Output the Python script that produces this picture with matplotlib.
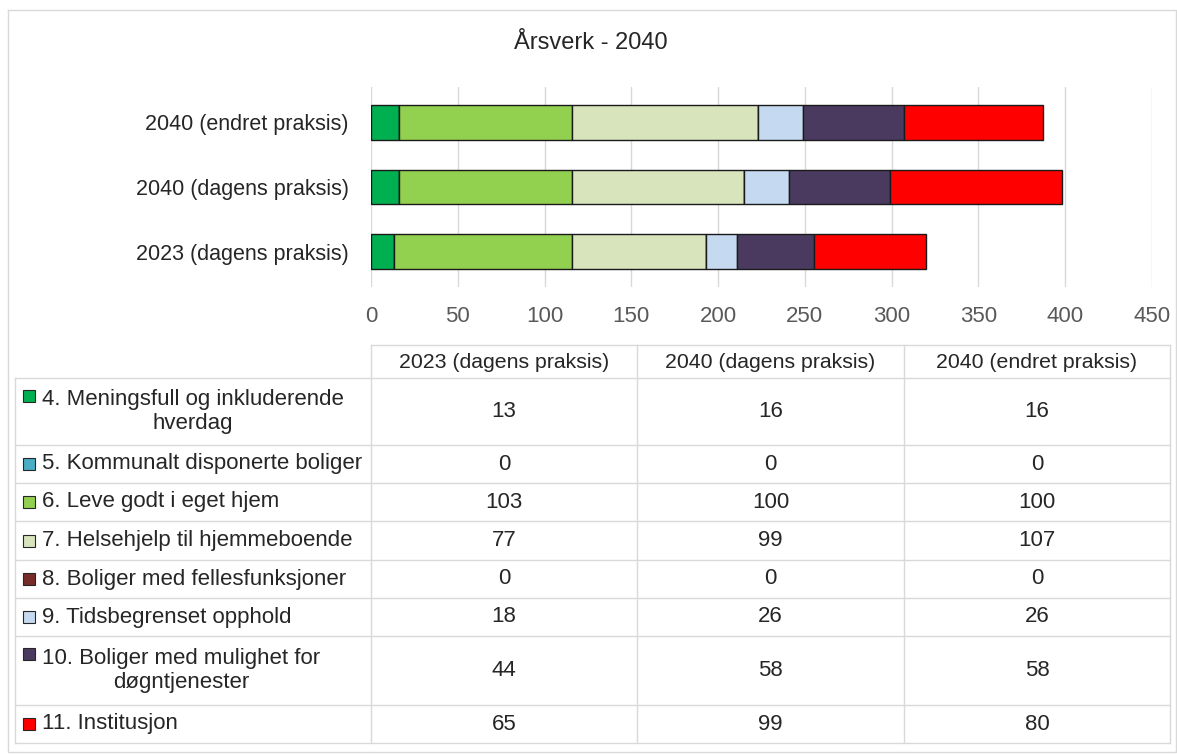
import matplotlib.pyplot as plt
import numpy as np

plt.rcParams['font.family'] = ['Liberation Sans', 'DejaVu Sans']

# data
scenarios = ["2023 (dagens praksis)", "2040 (dagens praksis)", "2040 (endret praksis)"]
categories = [
    "4. Meningsfull og inkluderende\nhverdag",
    "5. Kommunalt disponerte boliger",
    "6. Leve godt i eget hjem",
    "7. Helsehjelp til hjemmeboende",
    "8. Boliger med fellesfunksjoner",
    "9. Tidsbegrenset opphold",
    "10. Boliger med mulighet for\ndøgntjenester",
    "11. Institusjon",
]
colors = ["#00B050", "#4BACC6", "#92D050", "#D8E4BC",
          "#772C2A", "#C5D9F1", "#4B3A60", "#FF0000"]
# one list per scenario, in category order
vals_2023 = [13, 0, 103, 77, 0, 18, 44, 65]
vals_2040_dagens = [16, 0, 100, 99, 0, 26, 58, 99]
vals_2040_endret = [16, 0, 100, 107, 0, 26, 58, 80]
ticks = [0, 50, 100, 150, 200, 250, 300, 350, 400, 450]

W, H = 1177, 754
fig = plt.figure(figsize=(W / 100, H / 100), dpi=100)

# overlay in pixel coords for frame, title and table
ov = fig.add_axes([0, 0, 1, 1])
ov.set_xlim(0, W)
ov.set_ylim(H, 0)
ov.axis('off')

grid_c = "#D9D9D9"
txt_c = "#262626"
ov.plot([8, 1176, 1176, 8, 8], [10, 10, 752, 752, 10], color=grid_c, lw=1)
ov.text(591, 43, "Årsverk - 2040", ha='center', va='center', fontsize=17, color=txt_c)

# bar chart
ax = fig.add_axes([371 / W, 1 - 287 / H, (1152 - 371) / W, 200 / H])
data = np.array([vals_2023, vals_2040_dagens, vals_2040_endret])
y = np.arange(len(scenarios))
left = np.zeros(len(scenarios))
for i, c in enumerate(colors):
    ax.barh(y, data[:, i], left=left, height=0.54, color=c,
            edgecolor="#1a1a1a", linewidth=1.0, zorder=3)
    left += data[:, i]
ax.set_xlim(0, 450)
ax.set_ylim(-0.55, 2.55)
ax.set_xticks(ticks)
ax.set_yticks(y)
ax.set_yticklabels(scenarios, fontsize=15.5, color=txt_c)
ax.tick_params(axis='x', labelsize=16, colors="#595959", length=0, pad=14)
ax.tick_params(axis='y', length=0, pad=16)
ax.grid(axis='x', color=grid_c, lw=1, zorder=0)
for s in ax.spines.values():
    s.set_visible(False)

# data table
col_x = [15, 371, 637, 904, 1170]
row_y = [378, 445, 483, 521, 560, 598, 636, 705, 743]
ov.plot([371, 1170], [345, 345], color=grid_c, lw=1)
for yy in row_y:
    ov.plot([15, 1170], [yy, yy], color=grid_c, lw=1)
ov.plot([15, 15], [378, 743], color=grid_c, lw=1)
for xx in col_x[1:]:
    ov.plot([xx, xx], [345, 743], color=grid_c, lw=1)

for j, s in enumerate(scenarios):
    cx = (col_x[j + 1] + col_x[j + 2]) / 2
    ov.text(cx, 362, s, ha='center', va='center', fontsize=15.3, color=txt_c)

for i, cat in enumerate(categories):
    cy = (row_y[i] + row_y[i + 1]) / 2
    two = "\n" in cat
    ky = row_y[i] + 18 if two else cy
    ov.add_patch(plt.Rectangle((23, ky - 6), 12, 12, facecolor=colors[i],
                               edgecolor=txt_c, lw=0.8))
    ov.text(42, cy, cat, ha='left', va='center', fontsize=16,
            color=txt_c, multialignment='center', linespacing=1.2)
    for j in range(len(scenarios)):
        cx = (col_x[j + 1] + col_x[j + 2]) / 2
        ov.text(cx, cy, str(data[j, i]), ha='center', va='center',
                fontsize=16, color=txt_c)

fig.savefig("out.png", dpi=100)
